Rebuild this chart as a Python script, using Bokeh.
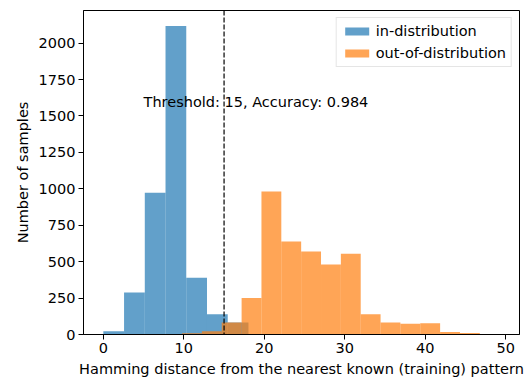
import numpy as np
from bokeh.plotting import figure
from bokeh.models import Range1d, FixedTicker, Span, Label
from bokeh.embed import file_html
from bokeh.resources import INLINE

# ---- data ----
in_dist_counts = [22, 288, 973, 2118, 390, 139, 82, 3, 2, 1]
in_dist_range = (0.0, 25.76)

ood_counts = [8, 22, 82, 250, 981, 639, 570, 481, 555, 139, 82, 73, 77, 18, 11, 1]
ood_range = (9.78, 49.24)

threshold = 15
accuracy = 0.984
label_pos = (5.0, 1595)

x_ticks = [0, 10, 20, 30, 40, 50]
y_ticks = [0, 250, 500, 750, 1000, 1250, 1500, 1750, 2000]

FONT = "DejaVu Sans"
FS = "14.5px"

in_edges = np.linspace(in_dist_range[0], in_dist_range[1], len(in_dist_counts) + 1)
ood_edges = np.linspace(ood_range[0], ood_range[1], len(ood_counts) + 1)

xmin, xmax = 0.0, ood_range[1]
pad = 0.05 * (xmax - xmin)
ymax = max(max(in_dist_counts), max(ood_counts)) * 1.05

p = figure(width=529, height=385, output_backend="svg", toolbar_location=None,
           x_range=Range1d(xmin - pad, xmax + pad), y_range=Range1d(0, ymax),
           min_border_left=83, min_border_right=10, min_border_top=10, min_border_bottom=51)

p.quad(left=in_edges[:-1], right=in_edges[1:], bottom=0, top=in_dist_counts,
       fill_color="#1f77b4", fill_alpha=0.7, line_color=None, legend_label="in-distribution")
p.quad(left=ood_edges[:-1], right=ood_edges[1:], bottom=0, top=ood_counts,
       fill_color="#ff7f0e", fill_alpha=0.7, line_color=None, legend_label="out-of-distribution")

p.add_layout(Span(location=threshold, dimension="height", line_color="black",
                  line_dash="5 2", line_width=1.2))
p.add_layout(Label(x=label_pos[0], y=label_pos[1],
                   text=f"Threshold: {threshold}, Accuracy: {accuracy}",
                   text_font=FONT, text_font_size=FS, text_color="black",
                   text_baseline="alphabetic", text_align="left"))

p.grid.visible = False
p.outline_line_color = "black"
p.outline_line_alpha = 1
p.outline_line_width = 1
p.background_fill_color = "white"
p.border_fill_color = "white"

p.xaxis.ticker = FixedTicker(ticks=x_ticks)
p.yaxis.ticker = FixedTicker(ticks=y_ticks)
for ax in (p.xaxis[0], p.yaxis[0]):
    ax.major_label_text_font = FONT
    ax.major_label_text_font_size = FS
    ax.major_label_text_color = "black"
    ax.axis_label_text_font = FONT
    ax.axis_label_text_font_size = FS
    ax.axis_label_text_font_style = "normal"
    ax.axis_label_text_color = "black"
    ax.axis_line_color = "black"
    ax.major_tick_line_color = "black"
    ax.major_tick_out = 5
    ax.major_tick_in = 0
    ax.minor_tick_line_color = None
    ax.major_label_standoff = 3
    ax.axis_label_standoff = 5
p.xaxis.axis_label = "Hamming distance from the nearest known (training) pattern"
p.yaxis.axis_label = "Number of samples"

lg = p.legend[0]
lg.location = "top_right"
lg.margin = 7
lg.padding = 5
lg.label_text_font = FONT
lg.label_text_font_size = FS
lg.label_text_color = "black"
lg.glyph_width = 30
lg.glyph_height = 10
lg.label_height = 14
lg.label_standoff = 4
lg.spacing = 6
lg.border_line_color = "#cccccc"
lg.border_line_width = 1
lg.background_fill_color = "white"
lg.background_fill_alpha = 0.8

open("out.html", "w").write(file_html(p, INLINE))
